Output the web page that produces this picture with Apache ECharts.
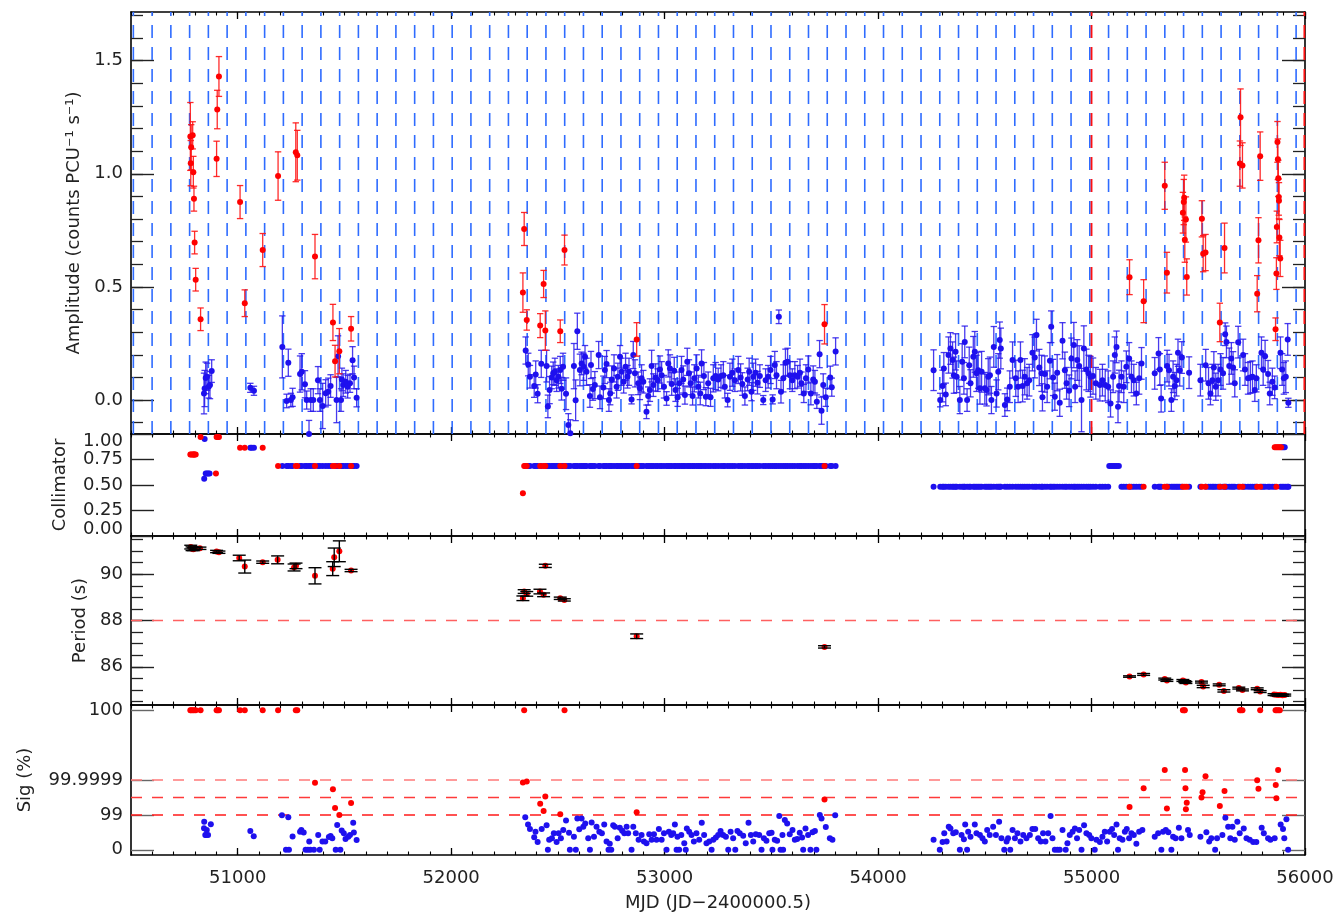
<!DOCTYPE html>
<html><head><meta charset="utf-8">
<script src="https://cdn.jsdelivr.net/npm/echarts@6/dist/echarts.min.js"></script>
<style>html,body{margin:0;padding:0;background:#fff}#c{width:1338px;height:913px}</style>
</head><body><div id="c"></div>
<script>
// ---------------- DATA ----------------
const mjdRange = [50500, 56000];
const xMajorTicks = [51000, 52000, 53000, 54000, 55000, 56000];
const xMinorStep = 100;

// periodic markers (dashed verticals in amplitude panel)
const orbitEpoch = 50511, orbitPeriod = 87.86, orbitCount = 63;
const redMarkers = [55000, 55997];

// amplitude: [MJD, amplitude, error]
const ampRed = [
 [50778,1.165,0.15],[50789,1.17,0.06],[50782,1.117,0.10],[50780,1.047,0.10],[50792,1.007,0.07],[50795,0.89,0.055],
 [50798,0.696,0.05],[50803,0.532,0.05],[50826,0.357,0.05],[50901,1.066,0.078],[50904,1.284,0.085],[50912,1.43,0.088],
 [51011,0.875,0.073],[51033,0.428,0.059],[51117,0.663,0.073],[51189,0.99,0.107],[51272,1.095,0.13],[51279,1.082,0.11],
 [51362,0.634,0.098],[51446,0.343,0.08],[51456,0.172,0.07],[51476,0.216,0.10],[51531,0.315,0.054],
 [52336,0.475,0.087],[52342,0.756,0.073],[52354,0.354,0.045],[52417,0.329,0.053],[52433,0.513,0.06],[52441,0.307,0.087],
 [52511,0.304,0.05],[52531,0.663,0.066],[52869,0.268,0.074],[53749,0.335,0.087],
 [55178,0.543,0.077],[55244,0.437,0.095],[55343,0.947,0.104],[55353,0.563,0.09],[55428,0.828,0.09],[55432,0.875,0.10],
 [55434,0.894,0.10],[55442,0.798,0.10],[55437,0.709,0.10],[55446,0.544,0.08],[55517,0.801,0.08],[55523,0.647,0.08],
 [55534,0.652,0.08],[55601,0.343,0.085],[55623,0.672,0.11],[55695,1.045,0.10],[55698,1.25,0.125],[55707,1.037,0.10],
 [55790,1.078,0.107],[55782,0.706,0.10],[55776,0.47,0.08],[55871,1.141,0.09],[55873,1.064,0.09],[55875,0.98,0.08],
 [55877,0.897,0.08],[55878,0.881,0.08],[55868,0.765,0.07],[55880,0.718,0.08],[55884,0.626,0.08],[55866,0.559,0.07],
 [55862,0.313,0.05]
];
const ampBlue = [
 [50842,0.029,0.09],[50845,0.051,0.08],[50850,0.098,0.07],[50856,0.103,0.06],[50864,0.059,0.05],[50870,0.066,0.06],
 [50878,0.128,0.05],[51059,0.054,0.02],[51076,0.041,0.02],
 [51209,0.235,0.137],[51229,-0.004,0.03],[51237,0.165,0.06],[51249,0.0,0.03],[51257,0.012,0.04],[51292,0.115,0.08],
 [51300,0.125,0.08],[51315,0.07,0.06],[51323,0.0,0.04],[51334,-0.15,0.06],[51342,0.0,0.05],[51354,0.0,0.05],
 [51376,0.088,0.06],[51385,0.0,0.05],[51398,-0.026,0.10],[51412,0.03,0.06],[51424,0.037,0.06],[51435,0.062,0.05],
 [51463,0.0,0.10],[51470,0.194,0.09],[51484,0.0,0.05],[51488,0.091,0.05],[51494,0.066,0.05],[51506,0.081,0.05],
 [51515,0.059,0.05],[51526,0.074,0.04],[51538,0.176,0.06],[51545,0.1,0.05],[51557,0.01,0.04],
 [52349,0.219,0.06],[52361,0.157,0.05],[52369,0.103,0.05],[52389,0.062,0.05],[52396,0.113,0.06],[52405,0.028,0.04],
 [52422,0.16,0.06],[52447,0.15,0.07],[52453,-0.028,0.05],[52461,0.044,0.06],[52471,0.1,0.05],[52478,0.118,0.05],
 [52486,0.125,0.06],[52494,0.088,0.05],[52502,0.103,0.05],[52511,0.133,0.06],[52517,0.05,0.05],[52524,0.147,0.06],
 [52538,0.028,0.07],[52549,-0.11,0.05],[52558,-0.147,0.06],[52575,0.15,0.1],[52583,-0.001,0.09],[52591,0.304,0.08],
 [52603,0.133,0.07],[52611,0.162,0.05],[52620,0.147,0.06],[52627,0.191,0.05],[52634,0.125,0.06],[52650,0.018,0.05],
 [52655,0.155,0.06],[52664,0.049,0.05],[52673,0.066,0.06],[52691,0.199,0.06],[52697,0.012,0.05],[52713,0.056,0.05],
 [52720,0.133,0.06],[52728,0.159,0.06],[52739,0.0,0.05],[52745,0.029,0.05],[52752,0.091,0.06],[52763,0.14,0.06],
 [52775,0.059,0.05],[52781,0.103,0.06],[52791,0.191,0.05],[52798,0.125,0.06],[52808,0.081,0.05],[52817,0.147,0.06],
 [52826,0.103,0.05],[52833,0.125,0.06],[52845,0.003,0.02],[52853,0.199,0.06],[52861,0.118,0.06],[52876,0.074,0.05],
 [52884,0.052,0.05],[52892,0.096,0.06],[52900,0.081,0.05],[52915,-0.052,0.03],[52923,0.018,0.04],[52931,0.044,0.05],
 [52939,0.15,0.07],[52947,0.066,0.05],[52958,0.1,0.06],[52967,0.088,0.05],[52978,0.135,0.06],[52986,0.11,0.06],
 [52997,0.059,0.05],[53009,0.007,0.03],[53017,0.162,0.06],[53025,0.14,0.06],[53033,0.071,0.05],[53045,0.129,0.06],
 [53051,0.044,0.05],[53061,0.012,0.04],[53069,0.074,0.05],[53079,0.133,0.06],[53087,0.091,0.06],[53095,0.022,0.04],
 [53106,0.169,0.06],[53114,0.118,0.06],[53122,0.074,0.05],[53131,0.018,0.04],[53139,0.096,0.06],[53150,0.14,0.06],
 [53158,0.059,0.05],[53167,0.029,0.05],[53173,0.162,0.06],[53184,0.106,0.06],[53193,0.015,0.04],[53204,0.074,0.05],
 [53215,0.012,0.04],[53228,0.096,0.06],[53239,0.106,0.06],[53251,0.091,0.05],[53264,0.106,0.05],[53275,0.11,0.06],
 [53282,0.059,0.05],[53295,0.0,0.03],[53306,0.103,0.06],[53317,0.121,0.06],[53329,0.088,0.05],[53345,0.133,0.06],
 [53356,0.1,0.06],[53364,0.071,0.05],[53376,0.018,0.04],[53389,0.091,0.05],[53396,0.125,0.06],[53407,0.037,0.04],
 [53415,0.103,0.06],[53426,0.121,0.06],[53435,0.077,0.05],[53446,0.106,0.05],[53462,0.0,0.02],[53473,0.088,0.05],
 [53485,0.103,0.05],[53496,0.133,0.06],[53506,0.003,0.02],[53516,0.155,0.06],[53524,0.11,0.06],[53535,0.368,0.03],
 [53545,0.037,0.05],[53556,0.096,0.06],[53566,0.165,0.06],[53576,0.169,0.06],[53587,0.11,0.06],[53598,0.088,0.05],
 [53610,0.11,0.06],[53623,0.103,0.05],[53634,0.121,0.06],[53641,0.074,0.05],[53652,0.029,0.04],[53662,0.096,0.06],
 [53673,0.135,0.06],[53685,0.029,0.05],[53696,0.091,0.06],[53704,0.081,0.05],[53713,-0.007,0.03],[53726,0.203,0.06],
 [53735,-0.047,0.06],[53743,0.066,0.05],[53755,0.012,0.04],[53776,0.1,0.05],[53783,0.057,0.04],[53801,0.215,0.06],
 [54260,0.132,0.09],[54291,0.0,0.03],[54302,0.062,0.07],[54308,0.14,0.07],[54317,0.025,0.05],[54330,0.199,0.08],
 [54339,0.228,0.07],[54349,0.177,0.08],[54355,0.11,0.08],[54363,0.213,0.08],[54368,0.103,0.07],[54383,0.0,0.06],
 [54394,0.169,0.08],[54402,0.096,0.07],[54406,0.257,0.07],[54417,0.0,0.05],[54427,0.154,0.08],[54433,0.074,0.06],
 [54446,0.191,0.09],[54453,0.213,0.09],[54461,0.118,0.08],[54469,0.132,0.08],[54477,0.052,0.07],[54485,0.125,0.09],
 [54500,0.052,0.07],[54508,0.044,0.07],[54516,0.103,0.08],[54524,0.11,0.08],[54531,0.0,0.06],[54542,0.235,0.09],
 [54555,0.029,0.06],[54563,0.125,0.08],[54570,0.265,0.08],[54575,0.228,0.09],[54594,-0.022,0.05],[54605,0.003,0.05],
 [54617,0.059,0.07],[54630,0.177,0.08],[54645,0.096,0.08],[54656,0.059,0.07],[54667,0.177,0.08],[54677,0.062,0.07],
 [54687,0.103,0.08],[54698,0.074,0.07],[54708,0.088,0.07],[54723,0.209,0.08],[54734,0.188,0.09],[54742,0.287,0.07],
 [54755,0.144,0.08],[54766,0.118,0.08],[54770,0.012,0.06],[54781,0.115,0.08],[54792,0.059,0.07],[54805,0.174,0.08],
 [54811,0.324,0.07],[54820,0.1,0.08],[54828,0.015,0.06],[54839,0.121,0.08],[54851,-0.012,0.06],[54864,0.262,0.08],
 [54875,0.132,0.08],[54883,0.074,0.07],[54895,0.041,0.07],[54906,0.184,0.09],[54917,0.243,0.1],[54923,0.059,0.07],
 [54933,0.177,0.09],[54942,0.15,0.09],[54953,0.0,0.14],[54964,0.228,0.1],[54976,0.135,0.09],[54986,0.118,0.08],
 [54995,0.103,0.09],[55007,0.106,0.08],[55020,0.074,0.07],[55039,0.066,0.07],[55051,0.088,0.07],[55064,0.066,0.07],
 [55078,0.059,0.07],[55089,-0.015,0.06],[55101,0.103,0.07],[55109,0.199,0.08],[55117,0.235,0.07],[55124,-0.03,0.07],
 [55129,0.062,0.07],[55140,0.103,0.07],[55151,0.059,0.07],[55163,0.147,0.07],[55176,0.184,0.07],[55187,0.103,0.07],
 [55198,0.088,0.07],[55210,0.029,0.05],[55223,0.096,0.07],[55234,0.162,0.07],[55296,0.118,0.07],[55314,0.206,0.07],
 [55320,0.135,0.07],[55326,0.007,0.06],[55354,0.15,0.07],[55363,0.132,0.07],[55374,0.0,0.05],[55382,0.103,0.07],
 [55390,0.062,0.06],[55398,0.088,0.07],[55405,0.209,0.06],[55413,0.132,0.07],[55423,0.188,0.07],[55457,0.121,0.07],
 [55510,0.088,0.07],[55535,0.154,0.07],[55548,0.074,0.07],[55557,0.029,0.05],[55566,0.088,0.07],[55573,0.144,0.07],
 [55582,0.059,0.06],[55593,0.088,0.07],[55604,0.135,0.07],[55616,0.118,0.07],[55626,0.291,0.05],[55632,0.257,0.07],
 [55645,0.15,0.08],[55655,0.184,0.07],[55663,0.144,0.07],[55671,0.074,0.06],[55687,0.256,0.07],[55710,0.199,0.07],
 [55719,0.135,0.07],[55733,0.096,0.07],[55744,0.1,0.07],[55754,0.103,0.07],[55765,0.044,0.05],[55772,0.096,0.06],
 [55796,0.209,0.07],[55804,0.135,0.07],[55813,0.194,0.07],[55827,0.115,0.06],[55835,0.029,0.05],[55847,0.081,0.06],
 [55858,0.056,0.05],[55885,0.209,0.07],[55893,0.135,0.07],[55901,0.096,0.07],[55910,0.103,0.07],[55919,0.268,0.07],
 [55922,-0.012,0.02]
];

// collimator: [MJD, response]
const colRed = [
 [50778,0.8],[50782,0.8],[50789,0.8],[50792,0.8],[50795,0.8],[50798,0.8],[50803,0.8],[50826,0.97],[50898,0.613],
 [50901,0.97],[50906,0.97],[50912,0.97],[51011,0.866],[51033,0.866],[51117,0.866],[51189,0.686],[51272,0.686],
 [51279,0.686],[51362,0.686],[51446,0.686],[51456,0.686],[51476,0.686],[51531,0.686],[52336,0.42],[52342,0.686],
 [52348,0.686],[52354,0.686],[52417,0.686],[52433,0.686],[52441,0.686],[52511,0.686],[52531,0.686],[52869,0.686],
 [53749,0.686],[55178,0.482],[55244,0.482],[55343,0.482],[55353,0.482],[55428,0.482],[55437,0.482],[55446,0.482],
 [55517,0.482],[55534,0.482],[55601,0.482],[55623,0.482],[55695,0.482],[55707,0.482],[55776,0.482],[55790,0.482],
 [55866,0.482],[55858,0.87],[55864,0.87],[55870,0.87],[55876,0.87],[55882,0.87],[55888,0.87]
];
const colBlueExtra = [
 [50843,0.561],[50845,0.952],[50850,0.613],[50856,0.613],[50862,0.613],[50868,0.613],
 [51059,0.866],[51066,0.866],[51076,0.866],[55083,0.686],[55092,0.686],[55101,0.686],[55110,0.686],[55119,0.686],
 [55128,0.686],[55893,0.87],[55899,0.87],[55905,0.87]
];
// collimator level of the blue observations by epoch: [from MJD, to MJD, response]
const colBlueSegments = [[51200,51560,0.686],[52340,53810,0.686],[54250,55080,0.482],[55130,55925,0.482]];

// period: [MJD, period (s), error]
const periodData = [
 [50780,91.17,0.08],[50786,91.10,0.08],[50792,91.08,0.06],[50800,91.12,0.05],[50823,91.12,0.05],[50901,90.98,0.05],
 [50912,90.95,0.05],[51007,90.70,0.12],[51033,90.33,0.28],[51117,90.52,0.05],[51187,90.62,0.17],[51264,90.29,0.15],
 [51273,90.36,0.12],[51362,89.93,0.35],[51445,90.24,0.30],[51452,90.73,0.40],[51476,90.99,0.45],[51531,90.16,0.05],
 [52336,88.96,0.10],[52342,89.25,0.08],[52354,89.15,0.10],[52416,89.25,0.10],[52433,89.11,0.08],[52441,90.36,0.07],
 [52511,88.96,0.05],[52530,88.89,0.05],[52869,87.32,0.10],[53749,86.86,0.05],[55178,85.58,0.03],[55244,85.67,0.04],
 [55343,85.47,0.04],[55353,85.41,0.04],[55428,85.41,0.04],[55437,85.36,0.04],[55442,85.32,0.04],[55515,85.34,0.04],
 [55523,85.15,0.05],[55598,85.22,0.04],[55620,84.96,0.05],[55690,85.08,0.04],[55707,85.00,0.04],[55776,85.05,0.04],
 [55790,84.93,0.04],[55855,84.80,0.04],[55865,84.79,0.04],[55875,84.78,0.04],[55885,84.79,0.04],[55895,84.77,0.04],
 [55905,84.78,0.04]
];
const periodRefLine = [88];

// significance, plotted on the panel's stretched scale: [MJD, scale position]
const sigScaleValues = [0, 2, 4, 8];
const sigScaleLabels = ['0', '99', '99.9999', '100'];
const sigRefLines = [2, 3, 4];
const sigRed = [
 [50778,8],[50782,8],[50789,8],[50795,8],[50803,8],[50826,8],[50901,8],[50906,8],[50912,8],[51011,8],[51033,8],
 [51117,8],[51189,8],[51272,8],[51279,8],[52342,8],[52531,8],[55428,8],[55434,8],[55437,8],[55695,8],[55700,8],
 [55707,8],[55790,8],[55862,8],[55868,8],[55875,8],[55882,8],
 [51362,3.84],[51446,3.47],[51456,2.39],[51476,2.0],[51531,2.68],[52336,3.86],[52354,3.92],[52441,3.05],[52417,2.64],
 [52433,2.22],[52511,2.03],[52869,2.15],[53749,2.88],[55178,2.45],[55244,3.52],[55343,4.58],[55353,2.36],[55438,4.58],
 [55440,3.52],[55446,2.7],[55442,2.32],[55534,4.22],[55520,3.3],[55515,3.0],[55623,3.37],[55601,2.51],[55776,3.99],
 [55782,3.5],[55874,4.58],[55863,3.71],[55866,2.96]
];
const sigBlue = [
 [50842,1.23],[50843,1.6],[50848,0.85],[50852,0.85],[50855,1.14],[50861,0.85],[50874,1.47],[51059,1.07],[51075,0.77],
 [51207,1.98],[51237,1.86],[51226,0],[51240,0],[51257,0.76],[51292,1.04],[51298,1.14],[51309,0.99],[51318,0],[51329,0],
 [51340,0],[51357,0],[51335,0.47],[51377,0.85],[51384,0],[51397,0.47],[51410,0.47],[51427,0.73],[51435,0.79],[51443,0.66],
 [51466,1.42],[51459,0],[51481,0],[51487,1.1],[51497,0.95],[51505,0.62],[51518,0.75],[51526,0.85],[51541,1.55],[51544,0.99],
 [51557,0.56],
 [52347,1.86],[52360,1.45],[52369,1.19],[52389,0.72],[52395,1.04],[52405,0.44],[52424,1.19],[52447,1.41],[52453,0],
 [52459,0.57],[52472,0.66],[52481,0.94],[52494,0.44],[52503,0.94],[52514,0.66],[52525,1.13],[52538,1.68],[52552,0.98],
 [52556,0],[52575,0.75],[52584,0],[52591,1.79],[52600,1.17],[52611,1.79],[52619,1.32],[52628,1.51],[52642,0.66],[52650,0],
 [52658,1.56],[52669,0.75],[52681,1.32],[52694,1.04],[52706,0.94],[52717,1.45],[52728,0.47],[52737,0],[52743,0.34],
 [52750,0],[52759,1.41],[52767,1.32],[52780,0.66],[52790,1.26],[52801,1.09],[52811,0.94],[52822,1.32],[52829,0.94],
 [52845,0],[52853,1.32],[52865,0.94],[52878,0.57],[52892,0.85],[52903,0.47],[52915,0.38],[52928,0.89],[52939,0.57],
 [52950,0.89],[52962,0.57],[52973,1.19],[52986,0.57],[52997,0.94],[53009,0],[53020,1.04],[53031,0.85],[53040,0.94],
 [53048,1.45],[53056,0],[53068,0],[53099,0],[53060,0.75],[53078,0.85],[53092,0.38],[53104,1.22],[53115,1.04],[53126,0.85],
 [53137,0.47],[53149,0.94],[53162,0.57],[53174,1.55],[53185,0.85],[53196,0.38],[53209,0.47],[53220,0],[53228,0.57],
 [53240,0.7],[53251,0.85],[53262,1.07],[53274,0.85],[53287,0.75],[53298,0],[53309,1.04],[53321,0.66],[53331,0],
 [53341,1.07],[53352,0.94],[53368,0.81],[53380,0.38],[53393,1.55],[53404,0.85],[53415,0.47],[53427,0.89],[53443,0.85],
 [53454,0],[53465,0.66],[53477,0.51],[53490,0.94],[53501,0.98],[53505,0],[53516,0.57],[53527,0.51],[53537,1.94],
 [53543,0],[53555,0],[53552,0.85],[53563,1.70],[53574,1.51],[53586,0.89],[53599,1.13],[53610,0.57],[53621,0.62],
 [53633,0.98],[53644,0.7],[53649,0],[53660,1.22],[53672,0.85],[53683,0],[53693,1.0],[53704,1.07],[53711,0],[53727,2.0],
 [53735,1.79],[53755,1.3],[53774,0.66],[53786,0.57],[53799,1.98],
 [54260,0.57],[54289,0],[54302,0.44],[54310,0.94],[54321,0.47],[54331,1.32],[54339,1.22],[54352,0.94],[54364,1.0],
 [54383,0],[54391,0.85],[54402,0.6],[54408,1.45],[54417,0],[54422,1.04],[54433,0.75],[54453,1.45],[54461,0.94],
 [54477,0.85],[54489,0.66],[54500,0.47],[54511,1.13],[54523,0.85],[54539,1.32],[54552,0.85],[54567,1.6],[54578,0.66],
 [54591,0],[54602,0.47],[54609,0.66],[54619,0],[54630,1.13],[54641,0.66],[54653,0.94],[54667,0.47],[54680,0.85],
 [54695,0.66],[54711,0.85],[54723,1.19],[54736,1.19],[54750,0.66],[54762,0.47],[54773,0.94],[54784,0.47],[54797,0.94],
 [54808,1.94],[54817,0.66],[54828,0],[54840,0],[54851,0],[54864,1.13],[54879,0],[54887,0.38],[54898,0.85],[54911,1.04],
 [54922,1.22],[54932,0.66],[54942,1.13],[54953,0],[54965,1.41],[54976,0.94],[54989,0.85],[54999,0.66],[55015,0],
 [55023,0.57],[55039,0.44],[55051,0.75],[55062,1.04],[55073,0.47],[55085,1.04],[55096,1.19],[55106,0.85],[55117,1.45],
 [55124,0],[55132,0.66],[55145,0.57],[55156,1.04],[55165,1.19],[55176,0.66],[55187,0.94],[55198,0.85],[55210,0.34],
 [55223,1.04],[55238,1.13],[55296,0.75],[55312,0.94],[55327,0],[55335,1.04],[55348,1.13],[55360,1.0],[55374,0],
 [55382,0.75],[55394,0.66],[55409,1.26],[55421,0.66],[55452,1.13],[55460,0.85],[55510,0.75],[55538,1.0],[55551,0.47],
 [55561,0.66],[55579,0],[55588,0.66],[55613,0.85],[55627,1.83],[55640,1.32],[55650,0.66],[55660,1.32],[55671,0.57],
 [55683,1.6],[55694,0.94],[55713,1.22],[55726,0.66],[55741,0.57],[55757,0.44],[55772,0.44],[55797,1.26],[55807,0.94],
 [55827,0.66],[55838,0.57],[55858,0.66],[55886,1.45],[55897,1.19],[55903,0.66],[55913,1.75],[55921,0]
];

// tick values
const ampTicks = [0, 0.5, 1.0, 1.5], ampRange = [-0.15, 1.715], ampMinorStep = 0.1;
const colTicks = [0, 0.25, 0.5, 0.75, 1.0], colRange = [0, 1];
const perTicks = [86, 88, 90], perRange = [84.35, 91.65], perMinorStep = 0.5;
const sigRange = [-0.3, 8.3];

// ---------------- STYLE / LAYOUT ----------------
const FONT = 'DejaVu Sans';
const BLUE = '#1e10ee', RED = '#ff0000';
const GRIDS = [
  {left:131, right:33, top:12, height:422},
  {left:131, right:33, top:434, height:102},
  {left:131, right:33, top:536, height:169},
  {left:131, right:33, top:705, height:152}
];
function steps(lo, hi, st) { const r = []; for (let v = Math.ceil(lo/st - 1e-9)*st; v <= hi + 1e-9; v += st) r.push(+v.toFixed(6)); return r; }
const xMinorTicks = steps(mjdRange[0], mjdRange[1], xMinorStep);
const orbitLines = []; for (let k = 0; k < orbitCount; k++) orbitLines.push(+(orbitEpoch + k*orbitPeriod).toFixed(2));

const xAxes = [], yAxes = [];
function tick(len, vals, color, width) {
  return {show:true, inside:true, length:len, interval:0, customValues:vals, lineStyle:{color:color, width:width}};
}
function addX(gi, last) {
  const base = {type:'value', gridIndex:gi, min:mjdRange[0], max:mjdRange[1], splitLine:{show:false}};
  xAxes.push(Object.assign({}, base, {position:'bottom',
    axisLine:{show:true, onZero:false, lineStyle:{color:'#000', width:1.6}},
    axisTick:tick(7, xMajorTicks, '#000', 1.3),
    axisLabel:{show:last, interval:0, customValues:xMajorTicks, formatter: v => String(Math.round(v)),
      fontFamily:FONT, fontSize:18, color:'#222', margin:14, hideOverlap:false},
    name: last ? 'MJD (JD\u22122400000.5)' : '', nameLocation:'middle', nameGap:39,
    nameTextStyle:{fontFamily:FONT, fontSize:18, color:'#222'}}));
  xAxes.push(Object.assign({}, base, {position:'bottom', axisLine:{show:false, onZero:false},
    axisTick:tick(3.5, xMinorTicks, '#000', 1.1), axisLabel:{show:false}}));
  xAxes.push(Object.assign({}, base, {position:'top',
    axisLine:{show:true, onZero:false, lineStyle:{color:'#000', width:1.6}},
    axisTick:tick(7, xMajorTicks, '#000', 1.3), axisLabel:{show:false}}));
  xAxes.push(Object.assign({}, base, {position:'top', axisLine:{show:false, onZero:false},
    axisTick:tick(3.5, xMinorTicks, '#000', 1.1), axisLabel:{show:false}}));
}
function addY(gi, range, major, minor, fmt, name, gap, tickColor, extraLabel) {
  const base = {type:'value', gridIndex:gi, min:range[0], max:range[1], splitLine:{show:false}};
  const lbl = Object.assign({show:true, interval:0, customValues:major, formatter:fmt, fontFamily:FONT, fontSize:18,
    lineHeight:14, color:'#222', margin:8, hideOverlap:false}, extraLabel||{});
  yAxes.push(Object.assign({}, base, {position:'left',
    axisLine:{show:true, onZero:false, lineStyle:{color:'#000', width:1.6}},
    axisTick:tick(23, major, tickColor, 1.4),
    axisLabel:lbl, name:name, nameLocation:'middle', nameRotate:90, nameGap:gap,
    nameTextStyle:{fontFamily:FONT, fontSize:18, color:'#222'}}));
  yAxes.push(Object.assign({}, base, {position:'left', axisLine:{show:false, onZero:false},
    axisTick:Object.assign(tick(12, minor||[], tickColor, 1.3), {show:!!minor}), axisLabel:{show:false}}));
  yAxes.push(Object.assign({}, base, {position:'right',
    axisLine:{show:true, onZero:false, lineStyle:{color:'#000', width:1.6}},
    axisTick:tick(23, major, tickColor, 1.4), axisLabel:{show:false}}));
  yAxes.push(Object.assign({}, base, {position:'right', axisLine:{show:false, onZero:false},
    axisTick:Object.assign(tick(12, minor||[], tickColor, 1.3), {show:!!minor}), axisLabel:{show:false}}));
}
for (let g = 0; g < 4; g++) addX(g, g === 3);
addY(0, ampRange, ampTicks, steps(ampRange[0], ampRange[1], ampMinorStep), v => v.toFixed(1),
     'Amplitude (counts PCU\u207B\u00B9 s\u207B\u00B9)', 48, '#222');
addY(1, colRange, colTicks, null, v => v.toFixed(2), 'Collimator', 62, '#222',
     {showMinLabel:true, showMaxLabel:true, verticalAlignMaxLabel:'top', verticalAlignMinLabel:'bottom'});
addY(2, perRange, perTicks, steps(perRange[0], perRange[1], perMinorStep), v => String(Math.round(v)),
     'Period (s)', 42, '#222');
addY(3, sigRange, sigScaleValues, null, v => sigScaleLabels[sigScaleValues.indexOf(Math.round(v))] || '',
     'Sig (%)', 97, '#666');

function ax(g) { return {xAxisIndex: g*4, yAxisIndex: g*4}; }
function errSeries(g, data, color, capHalf, width, z) {
  return Object.assign({type:'custom', clip:true, z:z, silent:true, data:data,
    encode:{x:0, y:1},
    renderItem: function(params, api) {
      const x = api.value(0), y = api.value(1), e = api.value(2);
      const t = api.coord([x, y + e]), b = api.coord([x, y - e]);
      const st = {stroke:color, lineWidth:width};
      return {type:'group', children:[
        {type:'line', shape:{x1:t[0], y1:t[1], x2:b[0], y2:b[1]}, style:st},
        {type:'line', shape:{x1:t[0]-capHalf, y1:t[1], x2:t[0]+capHalf, y2:t[1]}, style:st},
        {type:'line', shape:{x1:b[0]-capHalf, y1:b[1], x2:b[0]+capHalf, y2:b[1]}, style:st}
      ]};
    }}, ax(g));
}
function dots(g, data, color, size, z, clip) {
  return Object.assign({type:'scatter', data:data.map(d => [d[0], d[1]]), symbol:'circle', symbolSize:size,
    clip: clip !== false, itemStyle:{color:color, opacity:1}, z:z, silent:true, animation:false}, ax(g));
}
function vLines(g, vals, color, dash, width, z) {
  return Object.assign({type:'custom', z:z, silent:true, data:vals.map(v => [v]), encode:{x:0},
    renderItem: function(params, api) {
      const cs = params.coordSys; const x = api.coord([api.value(0), 0])[0];
      if (x < cs.x - 1 || x > cs.x + cs.width + 1) return null;
      return {type:'line', shape:{x1:x, y1:cs.y + cs.height, x2:x, y2:cs.y}, style:{stroke:color, lineWidth:width, lineDash:dash}};
    }}, ax(g));
}
function hLines(g, vals, colors, dash, width, z) {
  return Object.assign({type:'custom', z:z, silent:true, data:vals.map((v, i) => [mjdRange[0], v, i]), encode:{x:0, y:1},
    renderItem: function(params, api) {
      const cs = params.coordSys; const y = api.coord([mjdRange[0], api.value(1)])[1];
      return {type:'line', shape:{x1:cs.x, y1:y, x2:cs.x + cs.width, y2:y},
        style:{stroke:colors[api.value(2)], lineWidth:width, lineDash:dash}};
    }}, ax(g));
}

// collimator blue points: observation epochs of blue amplitudes, grouped by instrument segment
const colBlue = colBlueExtra.slice();
ampBlue.forEach(d => { colBlueSegments.forEach(s => { if (d[0] >= s[0] && d[0] <= s[1]) colBlue.push([d[0], s[2]]); }); });

const series = [
  vLines(0, orbitLines, '#2f6cff', [13, 9], 1.6, 1),
  vLines(0, redMarkers, '#ff1010', [13, 9], 1.8, 2),
  errSeries(0, ampBlue, 'rgba(40,25,235,0.85)', 3.2, 1.3, 3),
  dots(0, ampBlue, BLUE, 6, 4),
  errSeries(0, ampRed, 'rgba(255,20,20,0.9)', 3.2, 1.3, 5),
  dots(0, ampRed, RED, 6, 6),
  dots(1, colBlue, BLUE, 6, 3, false),
  dots(1, colRed, RED, 6, 4, false),
  hLines(2, periodRefLine, ['#ff6060'], [11, 10], 1.5, 1),
  dots(2, periodData, RED, 6, 3),
  errSeries(2, periodData, '#000', 6.5, 1.4, 4),
  hLines(3, sigRefLines, ['#ff1a1a', '#ff3a3a', '#ff7a7a'], [11, 10], 1.5, 1),
  dots(3, sigBlue, BLUE, 6, 3, false),
  dots(3, sigRed, RED, 6, 4, false)
];

const chart = echarts.init(document.getElementById('c'), null, {renderer:'canvas'});
chart.setOption({
  animation:false, backgroundColor:'#fff',
  grid: GRIDS,
  xAxis: xAxes, yAxis: yAxes,
  series: series
});
</script></body></html>
